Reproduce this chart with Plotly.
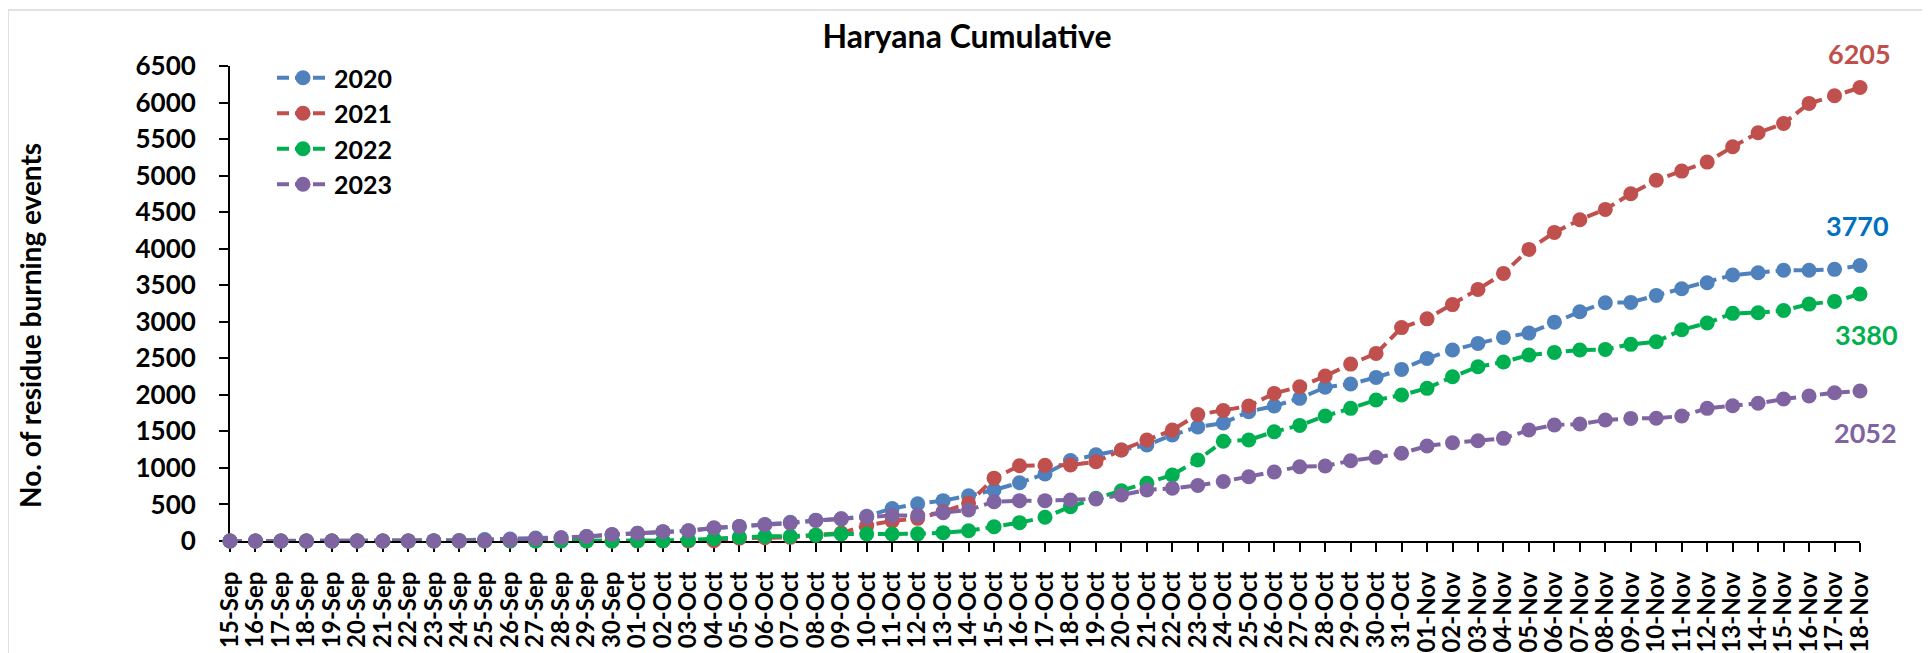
import plotly.graph_objects as go

dates = (
    [f"{d:02d}-Sep" for d in range(15, 31)]
    + [f"{d:02d}-Oct" for d in range(1, 32)]
    + [f"{d:02d}-Nov" for d in range(1, 19)]
)

y2020 = [0, 0, 0, 0, 0, 0, 0, 0, 5, 8, 20, 28, 40, 45, 60, 85,
         105, 125, 140, 175, 200, 225, 255, 285, 305, 340, 445, 510, 552, 620,
         698, 798, 917, 1100, 1180, 1245, 1313, 1450, 1560, 1614, 1769, 1847,
         1952, 2103, 2148, 2239, 2348, 2499, 2613, 2704, 2786, 2845, 2995, 3137,
         3260, 3265, 3361, 3452, 3534, 3639, 3671, 3705, 3705, 3717, 3770]

y2021 = [0, 0, 0, 0, 0, 0, 0, 0, 0, 0, 0, 0, 0, 0, 0, 0,
         0, 0, 0, 5, 40, 45, 50, 80, 110, 210, 275, 310, 400, 515,
         860, 1030, 1035, 1040, 1085, 1245, 1382, 1518, 1730, 1785, 1847, 2020,
         2110, 2257, 2421, 2567, 2920, 3040, 3235, 3443, 3662, 3990, 4223, 4396,
         4538, 4751, 4938, 5062, 5185, 5394, 5586, 5714, 5988, 6092, 6205]

y2022 = [0, 0, 0, 0, 0, 0, 0, 0, 0, 0, 0, 0, 0, 0, 0, 0,
         5, 5, 15, 30, 55, 64, 66, 80, 96, 96, 96, 98, 114, 141,
         196, 251, 324, 470, 584, 688, 789, 903, 1108, 1365, 1382, 1495,
         1582, 1710, 1815, 1929, 1997, 2089, 2248, 2384, 2449, 2544, 2581, 2613,
         2622, 2691, 2726, 2890, 2983, 3115, 3124, 3155, 3242, 3279, 3380]

y2023 = [0, 0, 0, 0, 0, 0, 0, 0, 0, 0, 5, 15, 30, 45, 60, 90,
         105, 128, 141, 180, 200, 222, 245, 280, 303, 328, 350, 350, 388, 424,
         538, 552, 552, 561, 575, 629, 698, 721, 760, 815, 880, 945,
         1017, 1026, 1099, 1145, 1200, 1300, 1345, 1372, 1405, 1518, 1587, 1601,
         1655, 1678, 1680, 1710, 1815, 1851, 1884, 1943, 1984, 2029, 2052]

series_names = ["2020", "2021", "2022", "2023"]
series_values = [y2020, y2021, y2022, y2023]
line_colors = ["#4F81BD", "#C0504D", "#00B050", "#8064A2"]
label_colors = ["#0070C0", "#C0504D", "#00B050", "#8064A2"]
label_shift = [(-3, 40), (-1, 34), (6, -40), (5, -41)]

FONT = "Lato"
# the page body adds an 8px margin; work in figure coordinates
W, H = 1922, 645
L, R, T, B = 222, 70, 58, 112
PH = H - T - B
PW = W - L - R

fig = go.Figure()
for name, vals, col in zip(series_names, series_values, line_colors):
    fig.add_trace(go.Scatter(
        x=dates, y=vals, name=name, mode="lines+markers",
        line=dict(color=col, width=4, dash="12px,6px"),
        marker=dict(color=col, size=15, symbol="circle"),
        cliponaxis=False,
    ))

for vals, col, (dx, dy) in zip(series_values, label_colors, label_shift):
    fig.add_annotation(
        x=dates[-1], y=vals[-1], text=str(vals[-1]), showarrow=False,
        xshift=dx, yshift=dy,
        font=dict(family=FONT, size=27, color=col, weight="bold"),
    )

fig.add_annotation(
    xref="paper", yref="paper", x=(22 - L) / PW, y=(H - B - 318) / PH,
    xanchor="center", yanchor="middle",
    text="No. of residue burning events", textangle=-90, showarrow=False,
    font=dict(family=FONT, size=28, color="black", weight="bold"),
)

fig.add_shape(
    type="rect", xref="paper", yref="paper",
    x0=(0 - L) / PW, x1=(1917 - L) / PW, y0=-0.3, y1=(H - B - 2) / PH,
    line=dict(color="#D9D9D9", width=1.5), fillcolor="rgba(0,0,0,0)",
    layer="below",
)

fig.update_layout(
    width=W, height=H,
    margin=dict(l=L, r=R, t=T, b=B, autoexpand=False),
    paper_bgcolor="white", plot_bgcolor="white",
    title=dict(
        text="Haryana Cumulative", x=959 / W, xref="container",
        y=1 - 29 / H, yref="container", xanchor="center", yanchor="middle",
        font=dict(family=FONT, size=32, color="black", weight="bold"),
    ),
    legend=dict(
        x=(264 - L) / PW, y=(H - B - 47) / PH, xanchor="left", yanchor="top",
        bgcolor="rgba(0,0,0,0)", borderwidth=0, itemwidth=52,
        font=dict(family=FONT, size=25, color="black", weight="bold"),
        tracegroupgap=0,
    ),
    xaxis=dict(
        type="category", range=[0, 64], showgrid=False, zeroline=False,
        tickmode="array", tickvals=dates, ticktext=dates,
        showline=True, linecolor="black", linewidth=2,
        ticks="outside", ticklen=9, tickwidth=1.5, tickcolor="black",
        tickangle=-90, ticklabelstandoff=10, automargin=False,
        tickfont=dict(family=FONT, size=24, color="black", weight="bold"),
        layer="below traces",
    ),
    yaxis=dict(
        range=[0, 6500], dtick=500, tick0=0, showgrid=False, zeroline=False,
        showline=True, linecolor="black", linewidth=2,
        ticks="outside", ticklen=9, tickwidth=1.5, tickcolor="black",
        ticklabelstandoff=18, automargin=False,
        tickfont=dict(family=FONT, size=26, color="black", weight="bold"),
        layer="below traces",
    ),
)

fig.write_html("out.html")
